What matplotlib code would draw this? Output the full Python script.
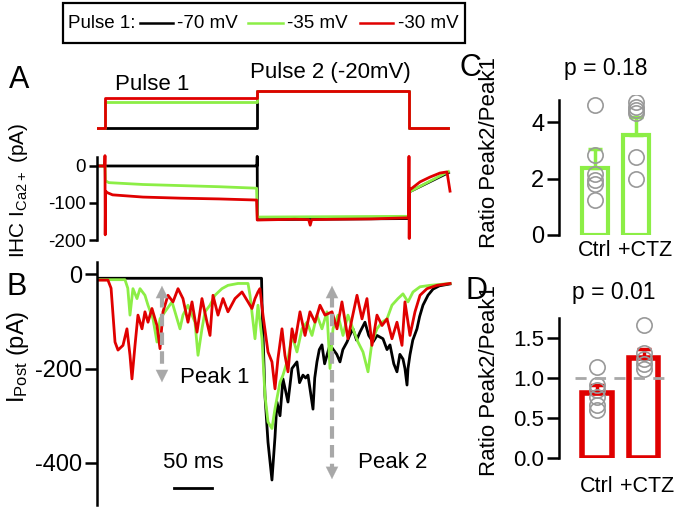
import matplotlib
matplotlib.use('Agg')
import matplotlib.pyplot as plt
from matplotlib.lines import Line2D
from matplotlib.patches import Rectangle

plt.rcParams['font.family'] = ['Liberation Sans', 'DejaVu Sans']
plt.rcParams['mathtext.default'] = 'regular'
plt.rcParams['axes.unicode_minus'] = False

BLACK = '#000000'
GREEN = '#8cee46'
RED = '#e00000'
GRAY = '#a8a8a8'
CIRC = '#999999'

# ---- stimulus protocol (ms, mV) ----
stim_t = [-10.5, 0, 0, 200, 200, 400, 400, 451]
stim_black = [-70, -70, -70, -70, -20, -20, -70, -70]
stim_green = [-70, -70, -35, -35, -20, -20, -70, -70]
stim_red = [-70, -70, -30, -30, -20, -20, -70, -70]

# ---- A: IHC Ca current (ms, pA) ----
a_black_t = [-10.5, 199.5, 200, 200.3, 200.6, 400, 400.5, 452]
a_black = [0, 0, 0, 26, -145, -142, -70, -18]
a_green_t = [-10.5, 0, 0.6, 5, 50, 100, 150, 199.5, 200.5, 300, 399.5, 400.5, 452]
a_green = [0, 0, -40, -45, -50, -53, -56, -60, -138, -137, -136, -70, -15]
a_red_t = [-10.5, -0.3, 0, 0.3, 0.8, 3, 10, 50, 100, 150, 199.5, 200.3, 250, 268,
           270, 272, 300, 350, 399.5, 400, 400.3, 400.8, 414.5, 427.6, 440.8, 450, 454]
a_red = [0, 0, 28, -186, -68, -72, -78, -84, -87, -89, -92, -146, -144, -145,
         -160, -145, -144, -143, -140, 26, -196, -65, -43, -30, -19, -16, -68]

# ---- B: postsynaptic current (ms, pA) ----
b_black_t = [-10.5, 206, 206.6, 210.5, 214.5, 219.7, 223.7, 226.3, 230.3, 234.2, 238,
             240.8, 246, 252.6, 256, 260.5, 264, 267.1, 273.7, 276, 278.9, 282, 285.5,
             289, 292.1, 296, 300, 305, 309.2, 313, 318.4, 322, 326.3, 331, 335.5, 342.1,
             347, 352.6, 358, 365.8, 371.1, 375, 380, 384.2, 388, 392.1, 394.7, 397.4,
             398.7, 401.3, 405, 410.5, 414, 418.4, 425, 431.6, 440, 454]
b_black = [-9, -9, -60, -257, -356, -436, -345, -271, -300, -222, -250,
           -271, -200, -186, -230, -214, -220, -214, -286, -220, -186, -160, -150,
           -190, -172, -150, -159, -170, -186, -160, -144, -130, -116, -140, -123, -102,
           -130, -144, -130, -137, -160, -150, -190, -207, -170, -180, -200, -235,
           -200, -171, -140, -116, -90, -66, -45, -32, -25, -21]

b_green_t = [-10.5, 26.3, 30, 32.9, 36.8, 42.1, 46.1, 52.6, 56.6, 63.2, 68.4, 72.4,
             78.9, 88.2, 92.1, 98.7, 102.6, 109.2, 118.4, 122.4, 127.6, 131.6, 138.2,
             144.7, 153.9, 161.8, 175, 188.2, 190.8, 197.4, 201.3, 206.6, 210.5, 214.5,
             219.7, 223.7, 230.3, 234.2, 240.8, 246.1, 252.6, 259.2, 265.8, 272.4, 278.9,
             285.5, 292.1, 296.1, 300, 306.6, 313.2, 319.7, 326.3, 332.9, 339.5, 346.1,
             351.3, 357.9, 364.5, 371.1, 377.6, 385.5, 392.1, 398.7, 405.3, 414.5, 427.6, 454]
b_green = [-12, -12, -30, -87, -31, -52, -31, -45, -66, -95, -144, -95,
           -80, -59, -80, -116, -87, -66, -102, -172, -116, -80, -66,
           -45, -31, -24, -20, -20, -45, -137, -66, -137, -257, -313,
           -327, -285, -229, -214, -179, -130, -165, -116, -102, -130, -87,
           -116, -80, -200, -116, -87, -130, -87, -116, -144, -165, -207,
           -144, -116, -102, -95, -66, -52, -42, -59, -38, -27, -24, -20]

b_red_t = [-10.5, 3.9, 8, 13.2, 17.1, 23.7, 28.9, 32.9, 35.5, 39.5, 43.4, 48.7, 52.6,
           56.6, 61.8, 68.4, 72.4, 76.3, 82.9, 89.5, 96.1, 102.6, 109.2, 114.5, 121.1,
           127.6, 134.2, 138.2, 142.1, 148.7, 155.3, 161.8, 171.1, 180.3, 188.2, 193.4,
           197.4, 201.3, 203.9, 207.9, 214.5, 219.7, 223.7, 227.6, 232.9, 236.8, 240.8,
           246.1, 250, 256.6, 263.2, 269.7, 276.3, 282.9, 289.5, 298.7, 305.3, 311.8,
           319.7, 325, 331.6, 338.2, 344.7, 351.3, 357.9, 364.5, 371.1, 377.6, 384.2,
           390.8, 394.7, 401.3, 407.9, 414.5, 423.7, 436.8, 454]
b_red = [-13, -13, -30, -144, -161, -151, -116, -172, -222, -151, -87, -116, -80,
         -102, -73, -109, -158, -80, -45, -59, -31, -52, -102, -59, -123,
         -52, -102, -130, -45, -87, -52, -80, -52, -38, -59, -73,
         -52, -38, -31, -87, -165, -186, -243, -179, -116, -172, -207,
         -116, -144, -80, -130, -80, -102, -66, -87, -80, -116, -59,
         -137, -95, -45, -95, -52, -151, -87, -109, -95, -137, -102,
         -151, -59, -130, -80, -45, -31, -24, -20]

# ---- C / D: ratio Peak2/Peak1 ----
groups = ['Ctrl', '+CTZ']
c_mean = [2.37, 3.54]
c_sem = [0.67, 0.64]
c_ctrl_pts = [4.6, 2.85, 2.15, 1.95, 1.8, 1.25]
c_ctz_pts = [4.7, 4.53, 4.42, 4.32, 2.76, 2.0]
d_mean = [0.81, 1.25]
d_sem = [0.10, 0.12]
d_ctrl_pts = [1.14, 0.91, 0.85, 0.76, 0.66, 0.6]
d_ctz_pts = [1.66, 1.31, 1.24, 1.18, 1.12]

W, H = 677, 514
fig = plt.figure(figsize=(W / 100, H / 100), dpi=100)


def ax_px(l, t, r, b):
    return fig.add_axes([l / W, 1 - b / H, (r - l) / W, (b - t) / H])


def fx(x):
    return x / W


def fy(y):
    return 1 - y / H


def style_left(ax, lo, hi, size, tlen):
    for s in ['top', 'right', 'bottom']:
        ax.spines[s].set_visible(False)
    ax.spines['left'].set_linewidth(1.8)
    ax.spines['left'].set_bounds(lo, hi)
    ax.tick_params(axis='y', length=tlen, width=1.8, labelsize=size, pad=2)
    ax.set_xticks([])


XLIM = (-10.5, 456.6)

# stimulus
ax_s = ax_px(97, 85, 452, 135)
ax_s.plot(stim_t, stim_black, color=BLACK, lw=2)
ax_s.plot(stim_t, stim_green, color=GREEN, lw=2)
ax_s.plot(stim_t, stim_red, color=RED, lw=2)
ax_s.set_xlim(XLIM)
ax_s.set_ylim(-79.5, -11.9)
ax_s.axis('off')

# A
ax_a = ax_px(97, 150, 452, 245)
ax_a.plot(a_black_t, a_black, color=BLACK, lw=2)
ax_a.plot(a_green_t, a_green, color=GREEN, lw=2)
ax_a.plot(a_red_t, a_red, color=RED, lw=2)
ax_a.set_xlim(XLIM)
ax_a.set_ylim(-213.5, 43.2)
style_left(ax_a, -200, 25, 13.5, 6)
ax_a.set_yticks([0, -100, -200])
ax_a.set_ylabel(r'IHC I$_{Ca2+}$ (pA)', fontsize=15)
ax_a.yaxis.set_label_coords((30 - 97) / 355, 0.58)

# B
ax_b = ax_px(97, 258, 452, 510)
ax_b.plot(b_black_t, b_black, color=BLACK, lw=2)
ax_b.plot(b_green_t, b_green, color=GREEN, lw=2)
ax_b.plot(b_red_t, b_red, color=RED, lw=2)
ax_b.set_xlim(XLIM)
ax_b.set_ylim(-499.5, 33.9)
style_left(ax_b, -489, 25, 17, 8.5)
ax_b.set_yticks([0, -200, -400])
ax_b.set_ylabel(r'I$_{Post}$ (pA)', fontsize=17)
ax_b.yaxis.set_label_coords((31 - 97) / 355, 0.607)

# peak arrows
for xa, top, bot in [(75, -19, -235), (298.7, -19, -440)]:
    ax_b.plot([xa, xa], [top - 25, bot + 25], color=GRAY, lw=3, ls=(0, (3, 1.5)))
    ax_b.annotate('', xy=(xa, top), xytext=(xa, top - 30),
                  arrowprops=dict(arrowstyle='-|>', color=GRAY, lw=0.1, mutation_scale=22))
    ax_b.annotate('', xy=(xa, bot), xytext=(xa, bot + 30),
                  arrowprops=dict(arrowstyle='-|>', color=GRAY, lw=0.1, mutation_scale=22))
ax_b.text(98.7, -218, 'Peak 1', fontsize=16, va='center')
ax_b.text(333, -398, 'Peak 2', fontsize=16, va='center')
# 50 ms scale bar
ax_b.plot([90.8, 140.8], [-453, -453], color=BLACK, lw=2)
ax_b.text(115.8, -400, '50 ms', fontsize=16, ha='center', va='center')

# stimulus labels
fig.text(fx(115), fy(85), 'Pulse 1', fontsize=16, va='center')
fig.text(fx(250), fy(73), 'Pulse 2 (-20mV)', fontsize=16, va='center')

# C
ax_c = ax_px(559, 95, 672, 235)
ax_c.bar([0, 1], c_mean, width=0.61, facecolor='white', edgecolor=GREEN, lw=3)
ax_c.errorbar([0, 1], c_mean, yerr=[[0, 0], c_sem], fmt='none', ecolor=GREEN,
              elinewidth=2.5, capsize=5, capthick=2.5)
ax_c.plot([0] * len(c_ctrl_pts), c_ctrl_pts, 'o', ms=11, mfc='none', mec=CIRC, mew=1.2, zorder=5)
ax_c.plot([1] * len(c_ctz_pts), c_ctz_pts, 'o', ms=11, mfc='none', mec=CIRC, mew=1.2, zorder=5)
ax_c.set_xlim(-0.878, 1.878)
ax_c.set_ylim(0, 4.96)
style_left(ax_c, 0, 4.8, 17, 8.5)
ax_c.set_yticks([0, 2, 4])
ax_c.set_ylabel('Ratio Peak2/Peak1', fontsize=16)
ax_c.yaxis.set_label_coords((500 - 559) / 113, 0.586)
ax_c.text(0, -0.55, groups[0], fontsize=15.5, ha='center', va='center')
ax_c.text(1.22, -0.55, groups[1], fontsize=15.5, ha='center', va='center')
fig.text(fx(606), fy(68), 'p = 0.18', fontsize=16.5, ha='center', va='center')

# D
ax_d = ax_px(559, 315, 672, 458)
ax_d.bar([0, 1], d_mean, width=0.62, facecolor='white', edgecolor=RED, lw=4)
ax_d.errorbar([0, 1], d_mean, yerr=[[0, 0], d_sem], fmt='none', ecolor=RED,
              elinewidth=2.5, capsize=5, capthick=2.5)
ax_d.plot([0] * len(d_ctrl_pts), d_ctrl_pts, 'o', ms=11, mfc='none', mec=CIRC, mew=1.2, zorder=5)
ax_d.plot([1] * len(d_ctz_pts), d_ctz_pts, 'o', ms=11, mfc='none', mec=CIRC, mew=1.2, zorder=5)
ax_d.plot([-0.47, 1.45], [1.0, 1.0], color=GRAY, lw=2, ls=(0, (4, 3)), zorder=6)
ax_d.set_xlim(-0.81, 1.6)
ax_d.set_ylim(0, 1.79)
style_left(ax_d, 0, 1.75, 16, 8.5)
ax_d.set_yticks([0, 0.5, 1.0, 1.5])
ax_d.set_yticklabels(['0.0', '0.5', '1.0', '1.5'])
ax_d.set_ylabel('Ratio Peak2/Peak1', fontsize=16)
ax_d.yaxis.set_label_coords((500 - 559) / 113, 0.545)
ax_d.text(0, -0.36, groups[0], fontsize=15.5, ha='center', va='center')
ax_d.text(1.06, -0.36, groups[1], fontsize=15.5, ha='center', va='center')
fig.text(fx(614), fy(292), 'p = 0.01', fontsize=16.5, ha='center', va='center')

# panel letters
for lab, x, y in [('A', 19, 80), ('B', 17, 287), ('C', 470, 68), ('D', 476, 291)]:
    fig.text(fx(x), fy(y), lab, fontsize=22, ha='center', va='center')

# legend box
fig.add_artist(Rectangle((fx(63), fy(43)), fx(465) - fx(63), fy(3) - fy(43),
                         transform=fig.transFigure, fill=False, ec=BLACK, lw=1.6))
fig.text(fx(68), fy(23), 'Pulse 1:', fontsize=13.5, va='center')
for col, x0, x1, lab, xt in [(BLACK, 140, 173, '-70 mV', 177),
                             (GREEN, 248, 283, '-35 mV', 287),
                             (RED, 360, 393, '-30 mV', 398)]:
    fig.add_artist(Line2D([fx(x0), fx(x1)], [fy(23), fy(23)], color=col, lw=1.8,
                          transform=fig.transFigure))
    fig.text(fx(xt), fy(23), lab, fontsize=13.5, va='center')

fig.savefig('out.png', dpi=100)
